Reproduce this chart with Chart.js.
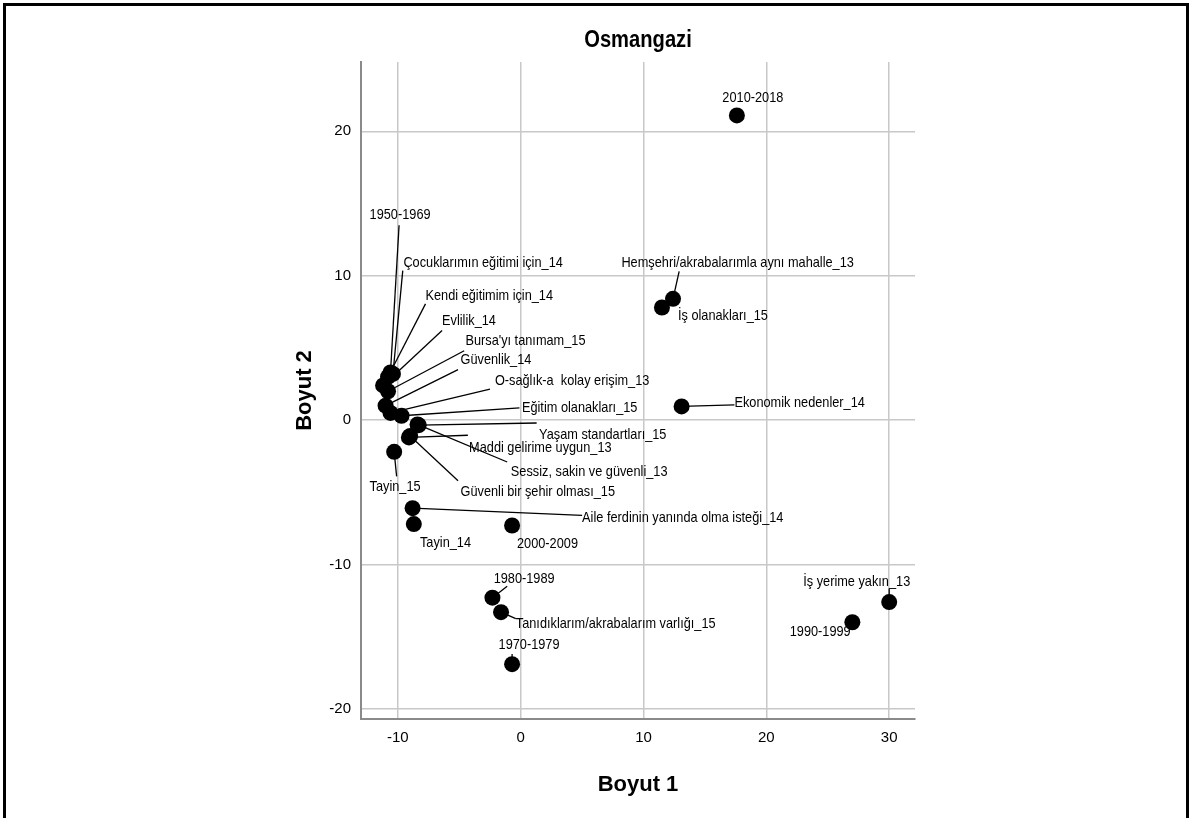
<!DOCTYPE html>
<html><head><meta charset="utf-8">
<script src="https://cdn.jsdelivr.net/npm/chart.js@4.4.1/dist/chart.umd.min.js"></script>
<style>
html,body{margin:0;padding:0;background:#fff;}
#wrap{position:relative;width:1192px;height:818px;overflow:hidden;}
#frame{position:absolute;left:3px;top:3px;width:1180px;height:840px;border:3px solid #000;border-bottom:none;pointer-events:none;}
canvas{position:absolute;left:0;top:0;}
</style></head><body>
<div id="wrap"><canvas id="c" width="1192" height="818"></canvas><div id="frame"></div></div>
<script>
// ---- data ----
const pointNames = [
  "2010-2018",
  "Hemşehri/akrabalarımla aynı mahalle_13",
  "İş olanakları_15",
  "Ekonomik nedenler_14",
  "İş yerime yakın_13",
  "1990-1999",
  "1980-1989",
  "Tanıdıklarım/akrabalarım varlığı_15",
  "1970-1979",
  "2000-2009",
  "Tayin_14",
  "Aile ferdinin yanında olma isteği_14",
  "Tayin_15",
  "Maddi gelirime uygun_13",
  "Güvenli bir şehir olması_15",
  "Yaşam standartları_15",
  "Sessiz, sakin ve güvenli_13",
  "1950-1969",
  "Çocuklarımın eğitimi için_14",
  "Kendi eğitimim için_14",
  "Evlilik_14",
  "Bursa'yı tanımam_15",
  "Güvenlik_14",
  "O-sağlık-a  kolay erişim_13",
  "Eğitim olanakları_15"
];
const dim1 = [17.6, 12.4, 11.5, 13.1, 30.0, 27.0, -2.3, -1.6, -0.7, -0.7, -8.7, -8.8, -10.3, -9.1, -9.0, -8.3, -8.4, -10.6, -10.4, -10.8, -11.2, -10.8, -11.0, -10.6, -9.7];
const dim2 = [21.1, 8.4, 7.8, 0.95, -12.6, -14.0, -12.3, -13.3, -16.9, -7.3, -7.2, -6.1, -2.2, -1.2, -1.1, -0.35, -0.3, 3.3, 3.2, 3.0, 2.4, 2.0, 1.0, 0.5, 0.3];
const xTicks = [-10, 0, 10, 20, 30];
const yTicks = [-20, -10, 0, 10, 20];
const chartTitle = "Osmangazi";
const xTitle = "Boyut 1";
const yTitle = "Boyut 2";

// ---- label placement (data units): text anchor and leader-line end ----
const labelX = [18.9, 8.2, 12.8, 17.4, 23.0, 21.9, -2.2, -0.4, -1.8, -0.3, -8.2, 5.0, -12.3, -4.2, -4.9, 1.5, -0.8, -12.3, -9.55, -7.75, -6.4, -4.5, -4.9, -2.1, 0.1];
const labelY = [22.3, 10.9, 7.2, 1.2, -11.2, -14.65, -11.0, -14.1, -15.55, -8.6, -8.5, -6.8, -4.65, -1.9, -5.0, -1.0, -3.6, 14.2, 10.9, 8.6, 6.9, 5.5, 4.2, 2.7, 0.85];
const labelAlign = ["center","left","left","left","left","left","left","left","left","left","left","left","left","left","left","left","left","left","left","left","left","left","left","left","left"];
const leadX = [null, 12.9, null, 17.4, 30.0, null, -1.1, -0.4, -0.7, null, null, 5.0, -10.1, -4.3, -5.1, 1.3, -1.1, -9.9, -9.6, -7.75, -6.4, -4.6, -5.1, -2.5, -0.1];
const leadY = [null, 10.3, null, 1.05, -11.7, null, -11.5, -13.75, -16.2, null, null, -6.6, -3.9, -1.05, -4.2, -0.2, -2.9, 13.5, 10.35, 8.05, 6.2, 4.8, 3.5, 2.15, 0.85];

const SANS = "'Liberation Sans', Arial, sans-serif";
const NARROW_SCALE = 0.85;

function narrowText(ctx, text, px, py, align) {
  ctx.save();
  ctx.translate(px, py);
  ctx.scale(NARROW_SCALE, 1);
  ctx.textAlign = align;
  ctx.fillText(text, 0, 0);
  ctx.restore();
}

const labelPlugin = {
  id: 'pointLabels',
  beforeDatasetsDraw(chart) {
    const {ctx, scales: {x, y}} = chart;
    ctx.save();
    ctx.strokeStyle = '#000';
    ctx.lineWidth = 1.3;
    for (let i = 0; i < pointNames.length; i++) {
      if (leadX[i] === null) continue;
      ctx.beginPath();
      ctx.moveTo(x.getPixelForValue(dim1[i]), y.getPixelForValue(dim2[i]));
      ctx.lineTo(x.getPixelForValue(leadX[i]), y.getPixelForValue(leadY[i]));
      ctx.stroke();
    }
    ctx.restore();
  },
  afterDatasetsDraw(chart) {
    const {ctx, scales: {x, y}} = chart;
    ctx.save();
    ctx.fillStyle = '#000';
    ctx.font = "15px " + SANS;
    ctx.textBaseline = 'middle';
    for (let i = 0; i < pointNames.length; i++) {
      narrowText(ctx, pointNames[i], x.getPixelForValue(labelX[i]), y.getPixelForValue(labelY[i]), labelAlign[i]);
    }
    ctx.restore();
  },
  afterDraw(chart) {
    const {ctx, chartArea} = chart;
    ctx.save();
    ctx.fillStyle = '#000';
    ctx.font = "bold 24px " + SANS;
    ctx.textBaseline = 'middle';
    ctx.translate((chartArea.left + chartArea.right) / 2, 40);
    ctx.scale(0.84, 1);
    ctx.textAlign = 'center';
    ctx.fillText(chartTitle, 0, 0);
    ctx.restore();
  }
};

new Chart(document.getElementById('c'), {
  type: 'scatter',
  data: {
    datasets: [{
      data: dim1.map((v, i) => ({x: v, y: dim2[i]})),
      backgroundColor: '#000',
      borderColor: '#000',
      pointRadius: 8,
      pointHoverRadius: 8,
      borderWidth: 0
    }]
  },
  options: {
    responsive: false,
    animation: false,
    layout: {padding: {left: 280, right: 277, top: 62, bottom: 0}},
    plugins: {legend: {display: false}, tooltip: {enabled: false}, title: {display: false}},
    scales: {
      x: {
        type: 'linear', min: -13.0, max: 32.1,
        afterBuildTicks: s => { s.ticks = xTicks.map(v => ({value: v})); },
        afterFit: s => { s.height = 99; },
        grid: {color: '#c8c8c8', lineWidth: 1.5, drawTicks: false},
        border: {display: true, color: '#8a8a8a', width: 2},
        ticks: {color: '#000', padding: 10, font: {family: SANS, size: 15}},
        title: {display: true, text: xTitle, color: '#000', font: {family: SANS, size: 22, weight: 'bold'}, padding: {top: 0, bottom: 20}}
      },
      y: {
        type: 'linear', min: -20.7, max: 24.8,
        afterBuildTicks: s => { s.ticks = yTicks.map(v => ({value: v})); },
        afterFit: s => { s.width = 81; },
        grid: {color: '#c8c8c8', lineWidth: 1.5, drawTicks: false},
        border: {display: true, color: '#8a8a8a', width: 2},
        ticks: {color: '#000', padding: 10, font: {family: SANS, size: 15}},
        title: {display: true, text: yTitle, color: '#000', font: {family: SANS, size: 22, weight: 'bold'}, padding: {top: 12, bottom: 0}}
      }
    }
  },
  plugins: [labelPlugin]
});
</script>
</body></html>
